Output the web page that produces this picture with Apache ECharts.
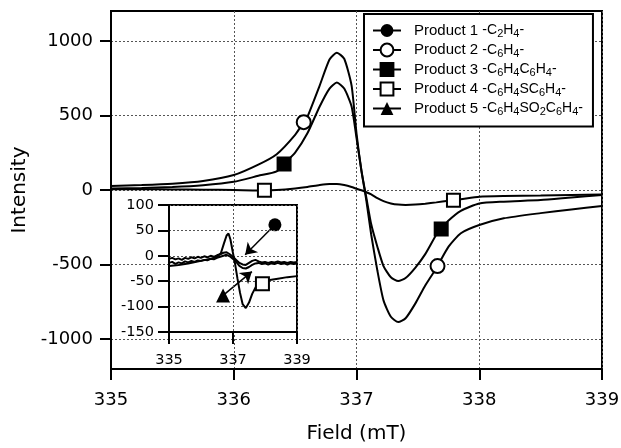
<!DOCTYPE html>
<html><head><meta charset="utf-8">
<script src="https://cdn.jsdelivr.net/npm/echarts@6/dist/echarts.min.js"></script>
<style>html,body{margin:0;padding:0;background:#fff}#c{width:621px;height:448px}</style>
</head><body><div id="c"></div>
<script>
// ---- main panel data (Field in mT, Intensity) ----
const fieldMain = [335, 335.25, 335.5, 335.75, 336, 336.2, 336.35, 336.5, 336.6, 336.7, 336.78, 336.84, 336.9, 336.96, 337.0, 337.04, 337.08, 337.12, 337.17, 337.22, 337.28, 337.34, 337.4, 337.48, 337.56, 337.65, 337.75, 337.85, 338.0, 338.2, 338.5, 338.75, 339];
const product2 = [27, 33, 42, 60, 100, 170, 240, 370, 490, 700, 875, 920, 880, 700, 380, 130, -70, -300, -540, -740, -850, -885, -860, -760, -640, -525, -380, -290, -235, -190, -155, -130, -107];
const product3 = [10, 14, 20, 32, 55, 95, 125, 250, 380, 560, 680, 720, 680, 560, 350, 130, -50, -230, -380, -510, -585, -610, -590, -520, -430, -300, -205, -140, -90, -78, -67, -50, -34];
const product4 = [5, 5, 4, 2, 0, -3, 0, 10, 20, 33, 40, 40, 33, 20, 8, -2, -15, -30, -55, -75, -90, -98, -100, -98, -92, -83, -72, -62, -45, -40, -37, -33, -30];
const markField2 = [336.57, 337.66], markValue2 = [455, -510];
const markField3 = [336.41, 337.69], markValue3 = [175, -262];
const markField4 = [336.25, 337.79], markValue4 = [-2, -68];

// ---- inset data ----
const fieldInset4 = [335, 335.3, 335.6, 336, 336.3, 336.5, 336.62, 336.72, 336.8, 336.86, 336.92, 337.0, 337.06, 337.14, 337.22, 337.3, 337.4, 337.5, 337.6, 337.75, 337.9, 338.1, 338.4, 338.7, 339];
const product4Inset = [-20, -18, -15, -10, -6, -2, 5, 25, 40, 44, 32, 5, -14, -45, -73, -95, -103, -92, -75, -57, -55, -48, -45, -42, -40];
const markFieldInset4 = [337.92], markValueInset4 = [-55];
const fieldInsetSmall = [335.0, 335.1, 335.2, 335.3, 335.4, 335.5, 335.6, 335.7, 335.8, 335.9, 336.0, 336.1, 336.2, 336.3, 336.4, 336.5, 336.6, 336.7, 336.8, 336.9, 337.0, 337.1, 337.2, 337.3, 337.4, 337.5, 337.6, 337.7, 337.8, 337.9, 338.0, 338.1, 338.2, 338.3, 338.4, 338.5, 338.6, 338.7, 338.8, 338.9, 339.0];
const product1Inset = [-6, -4, -7, -5, -8, -4, -6, -3, -5, -2, -4, -1, -3, 0, -2, 1, 3, 6, 7, 3, -2, -8, -14, -17, -18, -14, -10, -8, -11, -13, -12, -14, -12, -13, -11, -13, -12, -14, -12, -13, -12];
const product5Inset = [-14, -12, -16, -13, -15, -11, -13, -10, -12, -9, -10, -8, -9, -6, -7, -4, -2, 0, 2, -1, -6, -12, -20, -24, -25, -22, -18, -15, -14, -16, -15, -17, -15, -16, -14, -16, -15, -17, -15, -16, -15];
// labelled markers with arrows in the inset: [marker point, arrow tip]
const arrow1 = [[338.31, 61], [337.38, 2]];
const arrow5 = [[336.69, -78], [337.59, -31]];

// ---- text ----
const seriesNames = ['Product 1', 'Product 2', 'Product 3', 'Product 4', 'Product 5'];
const formulas = [
  '{f|-C}{s|2}{f|H}{s|4}{f|-}',
  '{f|-C}{s|6}{f|H}{s|4}{f|-}',
  '{f|-C}{s|6}{f|H}{s|4}{f|C}{s|6}{f|H}{s|4}{f|-}',
  '{f|-C}{s|6}{f|H}{s|4}{f|SC}{s|6}{f|H}{s|4}{f|-}',
  '{f|-C}{s|6}{f|H}{s|4}{f|SO}{s|2}{f|C}{s|6}{f|H}{s|4}{f|-}'
];
const mainYTicks = [-1000, -500, 0, 500, 1000];
const insetXTicks = [335, 337, 339];

function withMarkers(xs, ys, mx, my) {
  const pts = xs.map((x, i) => ({ value: [x, ys[i]], symbol: 'none' }));
  mx.forEach((x, i) => pts.push({ value: [x, my[i]] }));
  pts.sort((a, b) => a.value[0] - b.value[0]);
  return pts;
}
const pairs = (xs, ys) => xs.map((x, i) => [x, ys[i]]);
const plain = v => String(v);

const NUM = 'DejaVu Sans';
const black = '#000';
const splitStyle = { show: true, lineStyle: { color: '#555', width: 1, type: [2, 2] } };

const chart = echarts.init(document.getElementById('c'), null, { renderer: 'canvas' });
chart.setOption({
  animation: false,
  backgroundColor: '#fff',
  grid: [
    { left: 111, top: 11, right: 19, bottom: 79, outerBoundsMode: 'none', containLabel: false, show: true, borderColor: black, borderWidth: 2, backgroundColor: 'transparent' },
    { left: 169, top: 205, width: 128, height: 127, outerBoundsMode: 'none', containLabel: false, show: true, borderColor: black, borderWidth: 2, backgroundColor: '#fff', z: 5 }
  ],
  legend: {
    orient: 'vertical', left: 364, top: 14, z: 8,
    data: seriesNames,
    backgroundColor: '#fff', borderColor: black, borderWidth: 2,
    padding: [9, 10, 9, 8], itemGap: 3, itemWidth: 28, itemHeight: 16,
    formatter: name => '{n|' + name + ' }' + formulas[seriesNames.indexOf(name)],
    textStyle: {
      color: black,
      rich: {
        n: { fontFamily: 'Liberation Sans', fontSize: 15, lineHeight: 18, color: black, padding: [0, 0, 0, 8] },
        f: { fontFamily: 'Liberation Sans', fontSize: 14, lineHeight: 18, color: black },
        s: { fontFamily: 'Liberation Sans', fontSize: 11, lineHeight: 10, verticalAlign: 'bottom', color: black }
      }
    }
  },
  xAxis: [
    {
      gridIndex: 0, type: 'value', min: 335, max: 339, interval: 1,
      name: 'Field (mT)', nameLocation: 'middle', nameGap: 55,
      nameTextStyle: { fontFamily: NUM, fontSize: 20, color: black },
      axisLine: { onZero: false, lineStyle: { color: black, width: 2 } },
      axisTick: { inside: false, length: 11, lineStyle: { color: black, width: 2 } },
      axisLabel: { fontFamily: NUM, fontSize: 18, color: black, margin: 22, formatter: plain },
      splitLine: splitStyle
    },
    {
      gridIndex: 1, type: 'value', min: 335, max: 339, z: 6,
      axisLine: { onZero: false, lineStyle: { color: black, width: 2 } },
      axisTick: { length: 12, lineStyle: { color: black, width: 2 }, customValues: insetXTicks },
      axisLabel: { fontFamily: NUM, fontSize: 14.5, color: black, margin: 21, customValues: insetXTicks, formatter: plain },
      splitLine: splitStyle
    }
  ],
  yAxis: [
    {
      gridIndex: 0, type: 'value', min: -1200, max: 1200,
      name: 'Intensity', nameLocation: 'middle', nameGap: 78,
      nameTextStyle: { fontFamily: NUM, fontSize: 20, color: black },
      axisLine: { onZero: false, lineStyle: { color: black, width: 2 } },
      axisTick: { length: 11, lineStyle: { color: black, width: 2 }, customValues: mainYTicks },
      axisLabel: { fontFamily: NUM, fontSize: 18, color: black, margin: 18, customValues: mainYTicks, formatter: plain },
      splitLine: splitStyle
    },
    {
      gridIndex: 1, type: 'value', min: -150, max: 100, interval: 50, z: 6,
      axisLine: { onZero: false, lineStyle: { color: black, width: 2 } },
      axisTick: { length: 11, lineStyle: { color: black, width: 2 } },
      axisLabel: { fontFamily: NUM, fontSize: 14.5, color: black, margin: 15, formatter: plain },
      splitLine: splitStyle
    }
  ],
  series: [
    {
      name: 'Product 1', type: 'line', xAxisIndex: 1, yAxisIndex: 1, z: 7,
      data: pairs(fieldInsetSmall, product1Inset),
      symbol: 'circle', showSymbol: false, symbolSize: 13,
      lineStyle: { color: black, width: 2 }, itemStyle: { color: black },
      markPoint: { symbol: 'circle', symbolSize: 13, itemStyle: { color: black }, label: { show: false }, data: [{ coord: arrow1[0] }] },
      markLine: { silent: true, symbol: ['none', 'arrow'], symbolSize: 11, label: { show: false },
        lineStyle: { color: black, width: 1.5, type: 'solid' },
        data: [[{ coord: arrow1[0] }, { coord: arrow1[1] }]] }
    },
    {
      name: 'Product 2', type: 'line', xAxisIndex: 0, yAxisIndex: 0, z: 2, smooth: 0.2,
      data: withMarkers(fieldMain, product2, markField2, markValue2),
      symbol: 'emptyCircle', symbolSize: 14, showSymbol: true, showAllSymbol: true,
      lineStyle: { color: black, width: 2 }, itemStyle: { color: black, borderColor: black, borderWidth: 2 }
    },
    {
      name: 'Product 3', type: 'line', xAxisIndex: 0, yAxisIndex: 0, z: 2, smooth: 0.2,
      data: withMarkers(fieldMain, product3, markField3, markValue3),
      symbol: 'rect', symbolSize: 13, showSymbol: true, showAllSymbol: true,
      lineStyle: { color: black, width: 2 }, itemStyle: { color: black, borderColor: black, borderWidth: 2 }
    },
    {
      name: 'Product 4', type: 'line', xAxisIndex: 0, yAxisIndex: 0, z: 2, smooth: 0.2,
      data: withMarkers(fieldMain, product4, markField4, markValue4),
      symbol: 'emptyRect', symbolSize: 13, showSymbol: true, showAllSymbol: true,
      lineStyle: { color: black, width: 2 }, itemStyle: { color: black, borderColor: black, borderWidth: 2 }
    },
    {
      name: 'Product 4', type: 'line', xAxisIndex: 1, yAxisIndex: 1, z: 7,
      data: withMarkers(fieldInset4, product4Inset, markFieldInset4, markValueInset4),
      symbol: 'emptyRect', symbolSize: 13, showSymbol: true, showAllSymbol: true,
      lineStyle: { color: black, width: 2 }, itemStyle: { color: black, borderColor: black, borderWidth: 2 }
    },
    {
      name: 'Product 5', type: 'line', xAxisIndex: 1, yAxisIndex: 1, z: 7,
      data: pairs(fieldInsetSmall, product5Inset),
      symbol: 'triangle', showSymbol: false, symbolSize: 14,
      lineStyle: { color: black, width: 2 }, itemStyle: { color: black },
      markPoint: { symbol: 'triangle', symbolSize: 14, itemStyle: { color: black }, label: { show: false }, data: [{ coord: arrow5[0] }] },
      markLine: { silent: true, symbol: ['none', 'arrow'], symbolSize: 11, label: { show: false },
        lineStyle: { color: black, width: 1.5, type: 'solid' },
        data: [[{ coord: arrow5[0] }, { coord: arrow5[1] }]] }
    }
  ]
});
</script>
</body></html>
